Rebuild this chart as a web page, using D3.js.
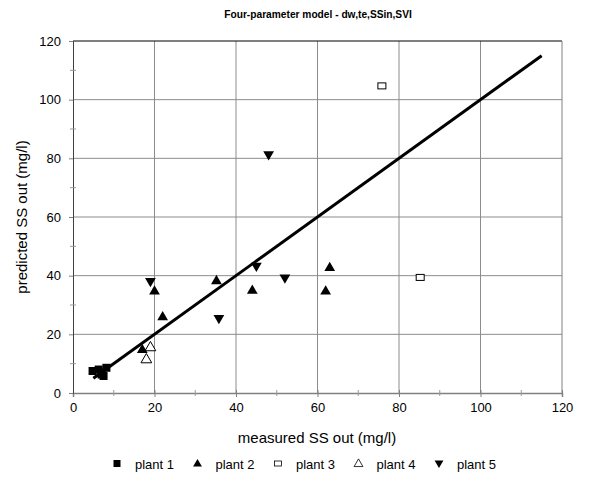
<!DOCTYPE html>
<html>
<head>
<meta charset="utf-8">
<script src="https://cdn.jsdelivr.net/npm/d3@7"></script>
<style>
body { margin: 0; background: #fff; }
text { font-family: "Liberation Sans", Arial, sans-serif; }
</style>
</head>
<body>
<div id="chart"></div>
<script>
// measured vs predicted SS out, one array per plant
var plant1 = [[4.8, 7.5], [6.3, 8], [7, 7], [7.5, 5.8], [8.2, 8.6], [7, 6.3]];
var plant2 = [[17, 15], [20, 35], [22, 26.2], [35.2, 38.5], [44, 35.2], [62, 35], [63, 43]];
var plant3 = [[75.8, 104.7], [85.2, 39.4]];
var plant4 = [[19, 15.8], [18, 11.7]];
var plant5 = [[19, 37.8], [35.8, 25.2], [45, 43], [48, 81], [52, 39]];
var fitLine = [[5, 5], [115, 115]];
var xTicks = [0, 20, 40, 60, 80, 100, 120];
var yTicks = [0, 20, 40, 60, 80, 100, 120];
var minorTicks = [10, 30, 50, 70, 90, 110];
var legendNames = ["plant 1", "plant 2", "plant 3", "plant 4", "plant 5"];

var W = 609, H = 482;
var mLeft = 73, mRight = 562, mTop = 41, mBottom = 393;

var svg = d3.select("#chart").append("svg")
  .attr("width", W)
  .attr("height", H);

var x = d3.scaleLinear().domain([0, 120]).range([mLeft, mRight]);
var y = d3.scaleLinear().domain([0, 120]).range([mBottom, mTop]);

// title
svg.append("text")
  .attr("x", 318).attr("y", 18)
  .attr("text-anchor", "middle")
  .attr("font-size", 10.2)
  .attr("font-weight", "bold")
  .text("Four-parameter model - dw,te,SSin,SVI");

// grid
svg.append("g").selectAll("line")
  .data(xTicks.slice(1, -1))
  .enter().append("line")
  .attr("x1", d => x(d)).attr("x2", d => x(d))
  .attr("y1", mTop).attr("y2", mBottom)
  .attr("stroke", "#8c8c8c").attr("stroke-width", 1);

svg.append("g").selectAll("line")
  .data(yTicks.slice(1, -1))
  .enter().append("line")
  .attr("x1", mLeft).attr("x2", mRight)
  .attr("y1", d => y(d)).attr("y2", d => y(d))
  .attr("stroke", "#8c8c8c").attr("stroke-width", 1);

// frame top and right
svg.append("line").attr("x1", mLeft).attr("x2", mRight).attr("y1", mTop).attr("y2", mTop)
  .attr("stroke", "#000").attr("stroke-width", 1);
svg.append("line").attr("x1", mRight).attr("x2", mRight).attr("y1", mTop).attr("y2", mBottom)
  .attr("stroke", "#808080").attr("stroke-width", 1);

// axes
var xAxis = d3.axisBottom(x).tickValues(xTicks).tickSize(4).tickPadding(6);
var gx = svg.append("g").attr("transform", "translate(0," + mBottom + ")").call(xAxis);
gx.select(".domain").attr("stroke", "#808080").attr("stroke-width", 1.5);
gx.selectAll(".tick line").attr("stroke", "#808080").attr("y1", -3);
gx.selectAll(".tick text").attr("font-size", 13).attr("font-family", "Liberation Sans, Arial, sans-serif").attr("fill", "#000");

var yAxis = d3.axisLeft(y).tickValues(yTicks).tickSize(4).tickPadding(8);
var gy = svg.append("g").attr("transform", "translate(" + mLeft + ",0)").call(yAxis);
gy.select(".domain").attr("stroke", "#404040").attr("stroke-width", 1);
gy.selectAll(".tick line").attr("stroke", "#808080");
gy.selectAll(".tick text").attr("font-size", 13).attr("font-family", "Liberation Sans, Arial, sans-serif").attr("fill", "#000");

// minor ticks
svg.append("g").selectAll("line")
  .data(minorTicks).enter().append("line")
  .attr("x1", d => x(d)).attr("x2", d => x(d))
  .attr("y1", mBottom - 3).attr("y2", mBottom + 3)
  .attr("stroke", "#999");
svg.append("g").selectAll("line")
  .data(minorTicks).enter().append("line")
  .attr("y1", d => y(d)).attr("y2", d => y(d))
  .attr("x1", mLeft - 3).attr("x2", mLeft + 3)
  .attr("stroke", "#999");

// axis titles
svg.append("text")
  .attr("x", 317).attr("y", 443)
  .attr("text-anchor", "middle")
  .attr("font-size", 15)
  .text("measured SS out (mg/l)");

svg.append("text")
  .attr("transform", "translate(27," + ((mTop + mBottom) / 2) + ") rotate(-90)")
  .attr("text-anchor", "middle")
  .attr("font-size", 15)
  .text("predicted SS out (mg/l)");

// 1:1 line
svg.append("path")
  .datum(fitLine)
  .attr("d", d3.line().x(d => x(d[0])).y(d => y(d[1])))
  .attr("stroke", "#000")
  .attr("stroke-width", 3)
  .attr("fill", "none");

// markers
var triUp = d3.symbol().type(d3.symbolTriangle).size(50);
var sq = d3.symbol().type(d3.symbolSquare).size(64);

function drawSeries(data, kind) {
  var g = svg.append("g");
  data.forEach(function(p) {
    var cx = x(p[0]), cy = y(p[1]);
    if (kind === "sq") {
      g.append("path").attr("d", sq()).attr("transform", "translate(" + cx + "," + cy + ")").attr("fill", "#000");
    } else if (kind === "hsq") {
      g.append("rect").attr("x", cx - 4).attr("y", cy - 3).attr("width", 8).attr("height", 6)
        .attr("fill", "#fff").attr("stroke", "#000").attr("stroke-width", 1);
    } else if (kind === "up") {
      g.append("path").attr("d", triUp()).attr("transform", "translate(" + cx + "," + (cy + 1) + ")").attr("fill", "#000");
    } else if (kind === "hup") {
      g.append("path").attr("d", triUp()).attr("transform", "translate(" + cx + "," + (cy + 1) + ")")
        .attr("fill", "#fff").attr("stroke", "#000").attr("stroke-width", 1);
    } else if (kind === "down") {
      g.append("path").attr("d", triUp()).attr("transform", "translate(" + cx + "," + (cy - 1) + ") rotate(180)").attr("fill", "#000");
    }
  });
}

drawSeries(plant1, "sq");
drawSeries(plant3, "hsq");
drawSeries(plant4, "hup");
drawSeries(plant2, "up");
drawSeries(plant5, "down");

// legend
var legendKinds = ["sq", "up", "hsq", "hup", "down"];
var smallTri = d3.symbol().type(d3.symbolTriangle).size(34);
var lg = svg.append("g");
legendNames.forEach(function(name, i) {
  var lx = 117 + i * 80.5, ly = 464;
  var k = legendKinds[i];
  if (k === "sq") {
    lg.append("rect").attr("x", lx - 3.5).attr("y", ly - 4).attr("width", 7).attr("height", 7).attr("fill", "#000");
  } else if (k === "hsq") {
    lg.append("rect").attr("x", lx - 3.5).attr("y", ly - 3).attr("width", 7).attr("height", 5)
      .attr("fill", "#fff").attr("stroke", "#000").attr("stroke-width", 0.8);
  } else if (k === "up") {
    lg.append("path").attr("d", smallTri()).attr("transform", "translate(" + lx + "," + ly + ")").attr("fill", "#000");
  } else if (k === "hup") {
    lg.append("path").attr("d", smallTri()).attr("transform", "translate(" + lx + "," + ly + ")")
      .attr("fill", "#fff").attr("stroke", "#000").attr("stroke-width", 0.8);
  } else {
    lg.append("path").attr("d", smallTri()).attr("transform", "translate(" + lx + "," + (ly - 1) + ") rotate(180)").attr("fill", "#000");
  }
  lg.append("text")
    .attr("x", lx + 18).attr("y", ly + 5)
    .attr("font-size", 13)
    .text(name);
});
</script>
</body>
</html>
